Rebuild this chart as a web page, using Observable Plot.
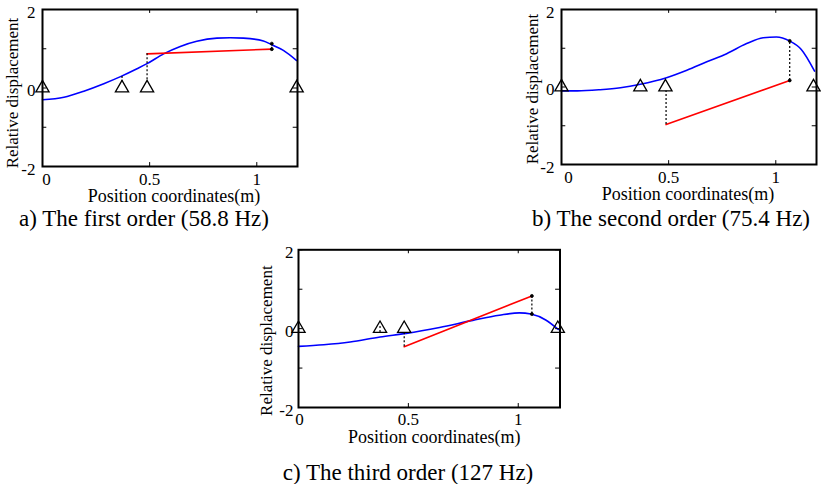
<!DOCTYPE html>
<html>
<head>
<meta charset="utf-8">
<script src="https://cdn.jsdelivr.net/npm/d3@7"></script>
<script src="https://cdn.jsdelivr.net/npm/@observablehq/plot@0.6"></script>
<style>
  body { margin: 0; background: #fff; }
  #root { position: relative; width: 821px; height: 484px; overflow: hidden; font-family: "Liberation Serif", "Times New Roman", serif; }
  .panel { position: absolute; overflow: visible; }
  .cap { position: absolute; font-size: 23px; line-height: 1; white-space: nowrap; transform: translateX(-50%); color: #000; }
</style>
</head>
<body>
<div id="root"></div>
<script>
// ---- shared axis values ----
const xMax = 1.19;
const xTicks = [0, 0.5, 1];
const yTicks = [-2, -1, 0, 1, 2];
const yTickLabels = [-2, 0, 2];
const xLabel = "Position coordinates(m)";
const yLabel = "Relative displacement";

// ---- panel a: first order (58.8 Hz) ----
const blueAx = [0, 0.10, 0.193, 0.286, 0.364, 0.441, 0.488, 0.565, 0.643, 0.72, 0.814, 0.876, 0.938, 1.031, 1.07, 1.124, 1.186];
const blueAy = [-0.30, -0.235, -0.08, 0.11, 0.29, 0.49, 0.62, 0.87, 1.06, 1.19, 1.27, 1.28, 1.27, 1.20, 1.10, 0.96, 0.70];
const redAx = [0.488, 1.07];
const redAy = [0.87, 0.99];
const dashA = [[0.371, 0.29, 0.15], [0.488, 0.87, 0.15], [1.07, 0.99, 1.13]];
const supportsA = [0, 0.371, 0.488, 1.186];

// ---- panel b: second order (75.4 Hz) ----
const blueBx = [0, 0.074, 0.18, 0.275, 0.368, 0.49, 0.585, 0.678, 0.771, 0.864, 0.941, 1.003, 1.064, 1.119, 1.181];
const blueBy = [-0.10, -0.10, -0.07, -0.02, 0.07, 0.24, 0.43, 0.65, 0.86, 1.12, 1.27, 1.29, 1.19, 0.97, 0.41];
const redBx = [0.488, 1.065];
const redBy = [-0.97, 0.17];
const dashB = [[0.488, -0.97, -0.1], [1.065, 0.17, 1.19]];
const supportsB = [0, 0.368, 0.485, 1.176];

// ---- panel c: third order (127 Hz) ----
const blueCx = [0, 0.115, 0.235, 0.371, 0.491, 0.642, 0.793, 0.914, 1.005, 1.058, 1.125, 1.182];
const blueCy = [-0.45, -0.41, -0.34, -0.21, -0.12, 0.03, 0.21, 0.34, 0.40, 0.37, 0.22, -0.02];
const redCx = [0.481, 1.062];
const redCy = [-0.46, 0.83];
const dashC = [[0.371, -0.1, 0.1], [0.481, -0.46, -0.1], [1.062, 0.83, 0.37]];
const supportsC = [0, 0.371, 0.481, 1.18];

const captions = ["a) The first order (58.8 Hz)", "b) The second order (75.4 Hz)", "c) The third order (127 Hz)"];

const FONT = "'Liberation Serif', 'Times New Roman', serif";

function zipXY(xs, ys) { return xs.map((x, i) => ({x, y: ys[i]})); }

function makePanel(p) {
  const blue = zipXY(p.bx, p.by);
  const red = zipXY(p.rx, p.ry);
  const dashes = p.dash.map(([x, y1, y2]) => ({x, y1, y2}));
  const last = p.dash[p.dash.length - 1];
  const endDots = [{x: last[0], y: last[1]}, {x: last[0], y: last[2]}];
  const txt = {fontSize: 17, fill: "#000"};
  const chart = Plot.plot({
    width: p.w, height: p.h,
    marginLeft: p.ml, marginRight: p.mr, marginTop: p.mt, marginBottom: p.mb,
    x: {domain: [0, xMax], axis: null},
    y: {domain: [-2, 2], axis: null},
    style: `font-family: ${FONT}; font-size: 17px; background: transparent; overflow: visible;`,
    marks: [
      Plot.line(blue, {x: "x", y: "y", stroke: "#0000ff", strokeWidth: 1.6, curve: "monotone-x"}),
      Plot.line(red, {x: "x", y: "y", stroke: "#ff0000", strokeWidth: 1.6}),
      Plot.ruleX(dashes, {x: "x", y1: "y1", y2: "y2", stroke: "#000", strokeWidth: 1.2, strokeDasharray: "2,2"}),
      Plot.dot(endDots, {x: "x", y: "y", r: 1.5, stroke: "#000", fill: "#000", strokeWidth: 0.8}),
      Plot.dot(p.sup, {x: d => d, y: 0, symbol: "triangle", r: 4.9, stroke: "#000", fill: "none", strokeWidth: 1.3}),
      // inward tick marks
      Plot.ruleX(xTicks, {x: d => d, y1: -2, y2: -1.9, stroke: "#000", strokeWidth: 1}),
      Plot.ruleX(xTicks, {x: d => d, y1: 2, y2: 1.9, stroke: "#000", strokeWidth: 1}),
      Plot.ruleY(yTicks, {y: d => d, x1: 0, x2: 0.02, stroke: "#000", strokeWidth: 1}),
      Plot.ruleY(yTicks, {y: d => d, x1: xMax, x2: xMax - 0.02, stroke: "#000", strokeWidth: 1}),
      Plot.frame({stroke: "#000", strokeWidth: 2}),
      // tick labels
      Plot.text([0], {x: d => d, frameAnchor: "bottom", textAnchor: "middle", lineAnchor: "top", dy: p.tdy, dx: p.zdx, text: d => String(d), ...txt}),
      Plot.text(xTicks.slice(1), {x: d => d, frameAnchor: "bottom", textAnchor: "middle", lineAnchor: "top", dy: p.tdy, text: d => String(d), ...txt}),
      Plot.text(yTickLabels, {y: d => d, frameAnchor: "left", textAnchor: "end", lineAnchor: "middle", dx: -p.ydx, dy: 3, text: d => String(d), ...txt}),
      // axis titles
      Plot.text([xLabel], {frameAnchor: "bottom", textAnchor: "middle", lineAnchor: "middle", dy: p.xldy, dx: p.xldx, text: d => d, fontSize: 18, fill: "#000"}),
      Plot.text([yLabel], {frameAnchor: "left", rotate: -90, textAnchor: "middle", lineAnchor: "middle", dx: p.yldx, dy: p.yldy, text: d => d, ...txt})
    ]
  });
  chart.classList.add("panel");
  chart.style.left = p.left + "px";
  chart.style.top = p.top + "px";
  chart.style.overflow = "visible";
  return chart;
}

const root = document.getElementById("root");
root.appendChild(makePanel({bx: blueAx, by: blueAy, rx: redAx, ry: redAy, dash: dashA, sup: supportsA,
  left: 0, top: 0, w: 310, h: 205, ml: 42, mr: 13, mt: 9, mb: 39,
  tdy: 6, zdx: 4, ydx: 7, xldy: 30, xldx: 4, yldx: -30, yldy: 5}));
root.appendChild(makePanel({bx: blueBx, by: blueBy, rx: redBx, ry: redBy, dash: dashB, sup: supportsB,
  left: 520, top: 0, w: 301, h: 205, ml: 41, mr: 5, mt: 9, mb: 41,
  tdy: 6, zdx: 7, ydx: 7, xldy: 30, xldx: -1, yldx: -29, yldy: 2}));
root.appendChild(makePanel({bx: blueCx, by: blueCy, rx: redCx, ry: redCy, dash: dashC, sup: supportsC,
  left: 250, top: 240, w: 320, h: 210, ml: 48, mr: 10.5, mt: 9.3, mb: 43,
  tdy: 5, zdx: 1, ydx: 5, xldy: 30, xldx: 5, yldx: -32, yldy: 12}));

const capPos = [[144, 207], [671, 207], [408, 461]];
captions.forEach((t, i) => {
  const d = document.createElement("div");
  d.className = "cap";
  d.textContent = t;
  d.style.left = capPos[i][0] + "px";
  d.style.top = capPos[i][1] + "px";
  root.appendChild(d);
});
</script>
</body>
</html>
